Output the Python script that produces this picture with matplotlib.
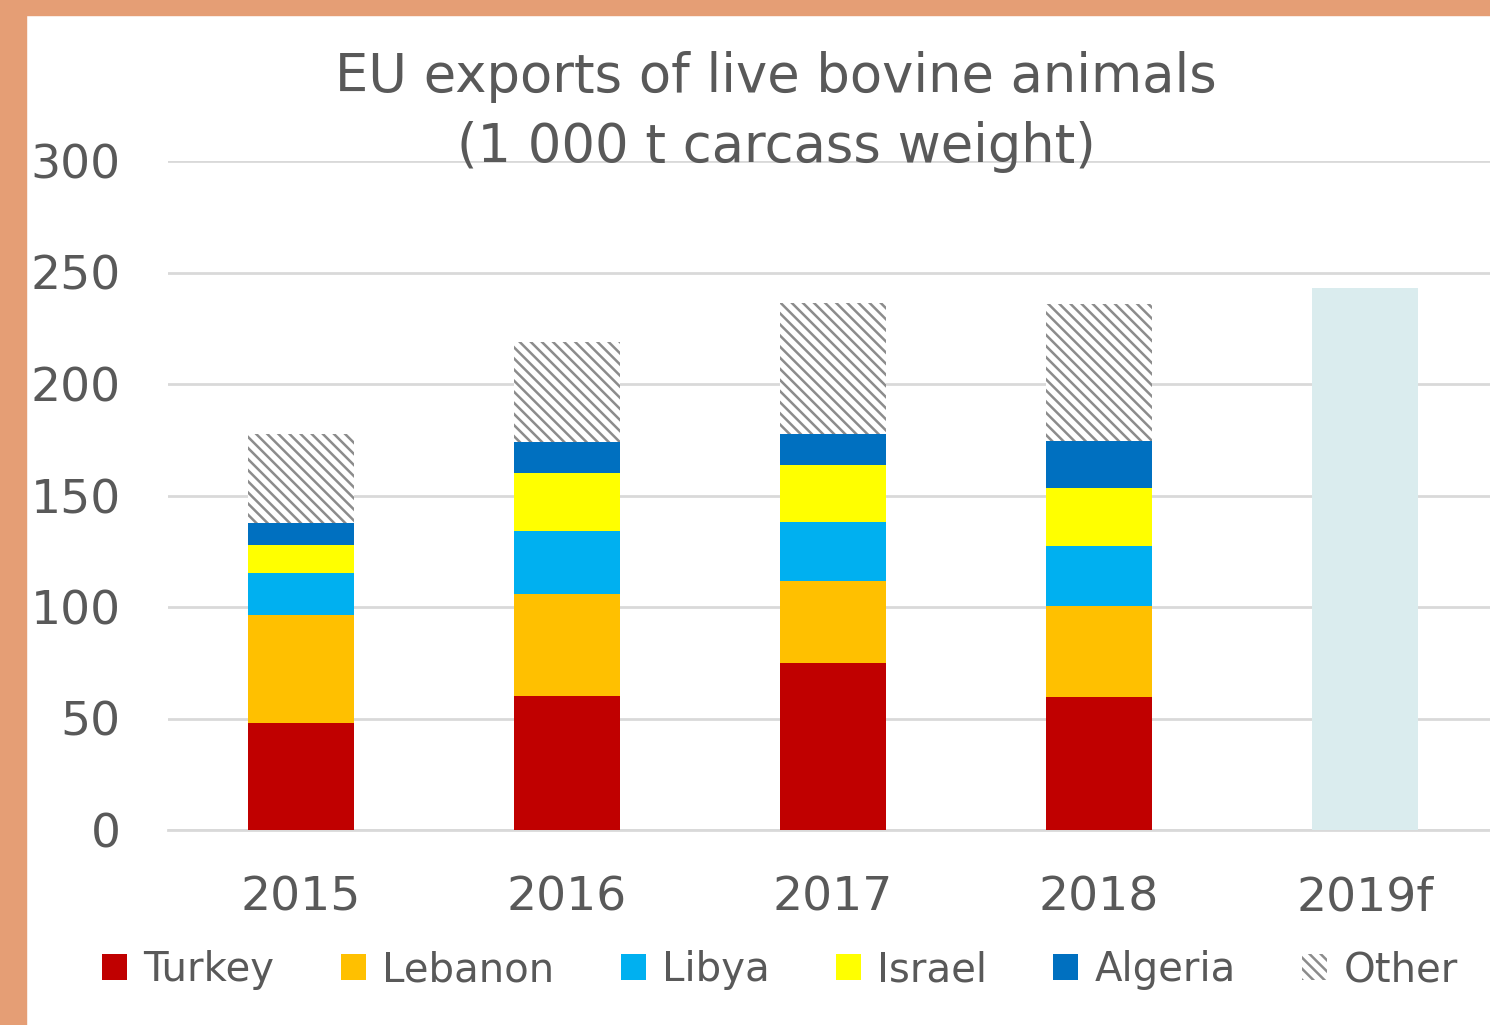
import numpy as np
import matplotlib.pyplot as plt
from matplotlib.patches import Rectangle

plt.rcParams['font.family'] = ['DejaVu Sans']
plt.rcParams['hatch.linewidth'] = 1.8

years = ['2015', '2016', '2017', '2018', '2019f']
series = ['Turkey', 'Lebanon', 'Libya', 'Israel', 'Algeria', 'Other']
turkey = [48.0, 60.1, 74.9, 59.6]
lebanon = [48.4, 45.7, 36.8, 40.8]
libya = [18.8, 28.3, 26.4, 27.0]
israel = [12.6, 26.0, 25.6, 26.0]
algeria = [9.9, 13.9, 13.9, 21.0]
other = [39.9, 44.8, 58.7, 61.5]
forecast_total = 243.0

colors = {'Turkey': '#C00000', 'Lebanon': '#FFC000', 'Libya': '#00B0F0',
          'Israel': '#FFFF00', 'Algeria': '#0070C0', 'Other': 'white'}
text_col = '#595959'

fig = plt.figure(figsize=(14.9, 10.25), dpi=100)
fig.patch.set_facecolor('white')
# orange frame on left and top
fig.add_artist(Rectangle((0, 0), 26/1490, 1, transform=fig.transFigure, color='#E59E75', zorder=0))
fig.add_artist(Rectangle((0, 1-15/1025), 1, 15/1025, transform=fig.transFigure, color='#E59E75', zorder=0))

ax = fig.add_axes([168/1490, 1-830/1025, 1330/1490, (830-161)/1025])
x = np.arange(4)
w = 0.4
bottom = np.zeros(4)
for name, vals in zip(series, [turkey, lebanon, libya, israel, algeria, other]):
    if name == 'Other':
        ax.bar(x, vals, w, bottom=bottom, color='white', edgecolor='#8C8C8C',
               hatch='\\\\\\', linewidth=0, label=name, zorder=3)
    else:
        ax.bar(x, vals, w, bottom=bottom, color=colors[name], label=name, zorder=3)
    bottom += np.array(vals)
ax.bar([4], [forecast_total], w, color='#DAECEE', zorder=3)

ax.set_xlim(-0.5, 4.5)
ax.set_ylim(0, 300)
ax.set_yticks(np.arange(0, 301, 50))
ax.set_xticks(np.arange(5))
ax.set_xticklabels(years)
ax.tick_params(axis='both', length=0, labelsize=34, labelcolor=text_col)
ax.tick_params(axis='y', pad=34)
ax.tick_params(axis='x', pad=33)
ax.grid(axis='y', color='#D9D9D9', linewidth=2, zorder=0)
for s in ['top', 'right', 'left']:
    ax.spines[s].set_visible(False)
ax.spines['bottom'].set_color('#D9D9D9')
ax.spines['bottom'].set_linewidth(2)

fig.text(776/1490, 1-112/1025, 'EU exports of live bovine animals\n(1 000 t carcass weight)',
         ha='center', va='center', fontsize=38, color=text_col, linespacing=1.42)

handles, labels = ax.get_legend_handles_labels()
fig.legend(handles, labels, loc='center', bbox_to_anchor=(780/1490, 1-970/1025), ncol=6,
           frameon=False, fontsize=29, labelcolor=text_col, handlelength=0.62,
           handleheight=0.62, handletextpad=0.4, columnspacing=1.65)

fig.savefig('out.png', dpi=100)
